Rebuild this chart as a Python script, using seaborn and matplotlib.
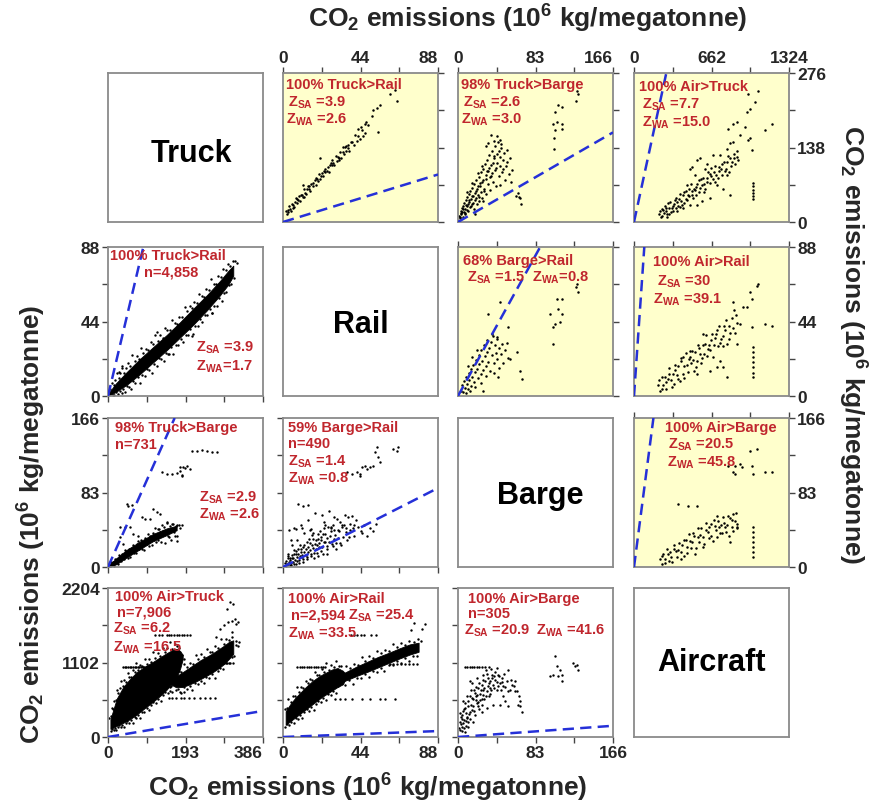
import matplotlib
matplotlib.use("Agg")
import matplotlib.pyplot as plt
import seaborn as sns
import pandas as pd

sns.set_theme(style="white")
plt.rcParams["font.family"] = ["Liberation Sans", "DejaVu Sans"]
plt.rcParams["font.weight"] = "bold"
plt.rcParams["mathtext.fontset"] = "custom"
for key in ("rm", "it", "bf", "sf"):
    plt.rcParams["mathtext." + key] = "Liberation Sans:bold"
plt.rcParams["mathtext.default"] = "rm"

# ---------------------------------------------------------------- data
modes = ["Truck", "Rail", "Barge", "Aircraft"]

# axis maxima: lower-left panels (all shipments) / upper-right panels
lower_max = {"Truck": 386, "Rail": 88, "Barge": 166, "Aircraft": 2204}
upper_max = {"Truck": 276, "Rail": 88, "Barge": 166, "Aircraft": 1324}

# ---- upper-right panels (x = column mode, y = row mode)
up_rail_truck = [(1.6,20.4),(2.2,15.5),(2.9,22.9),(3.3,29.2),(4.1,23.9),(4.6,20.6),(5.2,33.7),(5.5,30.7),
    (6.3,28.4),(6.9,37.5),(7.4,44.2),(7.8,35.5),(8.6,40.2),(9.1,47.9),(9.4,38.0),(10.2,49.7),(10.8,49.7),
    (11.5,47.1),(11.9,60.5),(12.6,52.8),(13.0,51.2),(13.8,60.9),(14.4,67.0),(14.7,61.0),(15.5,57.7),
    (16.1,70.7),(16.8,66.1),(17.2,71.5),(17.9,77.9),(18.5,68.9),(19.3,79.6),(19.6,76.6),(20.4,88.4),
    (21.1,79.7),(21.5,85.1),(22.3,90.8),(22.8,84.5),(23.6,98.2),(24.0,92.6),(24.9,93.7),(25.3,102.0),
    (26.0,93.4),(26.8,105.1),(27.1,109.1),(27.9,104.9),(28.6,110.2),(29.2,105.3),(29.9,121.7),(30.5,112.7),
    (31.2,121.1),(31.8,119.1),(32.6,128.8),(33.0,119.2),(33.9,129.3),(34.5,125.3),(35.2,138.7),(36.0,132.4),
    (36.7,137.8),(37.5,131.5),(38.4,147.6),(39.1,147.9),(40.2,142.7),(41.0,160.4),(41.9,150.5),(42.7,159.2),
    (43.6,153.2),(44.8,170.3),(46.5,182),(47.4,186),(48.1,179),(50.4,197),(51.2,207),(53.3,212),(54.8,216),
    (54.1,167),(46.6,164),(60.8,237),(63.7,244),(64.5,225),(21.0,119),(11.2,69),(33.8,139),(35.5,141),
    (42.5,172),(44.0,176),(45.2,160),(3.0,18),(5.9,26),(8.2,43),(12.2,46),(15.0,66),(18.8,81),(23.0,95),
    (28.0,115),(32.0,115),(37.0,143)]

up_barge_truck = [(1.5,12),(2.3,7),(2.8,21),(3.6,16),(4.1,26),(4.9,10),(5.4,30),(6.2,19),(6.7,35),(7.5,24),
    (8.0,14),(8.8,40),(9.3,29),(10.1,46),(10.6,20),(11.4,37),(12.0,51),(12.7,28),(13.3,57),(14.0,43),
    (14.6,34),(15.5,63),(16.0,49),(16.9,25),(17.5,70),(18.1,41),(18.8,58),(19.6,77),(20.2,33),(21.0,66),
    (21.5,50),(22.3,84),(23.0,39),(23.6,72),(24.5,92),(25.1,56),(25.8,45),(26.6,99),(27.2,78),(28.0,62),
    (28.7,108),(29.5,87),(30.1,52),(30.9,115),(31.6,71),(32.4,95),(33.0,124),(33.8,83),(34.5,60),
    (35.3,106),(36.0,131),(36.8,90),(37.6,75),(38.3,118),(39.1,140),(39.8,97),(40.7,67),(41.4,126),
    (42.2,109),(43.0,149),(43.9,85),(44.6,120),(45.5,103),(46.3,138),(47.2,92),(48.0,115),(49.1,128),
    (50.3,78),(51.6,104),(53.0,134),(54.7,88),(56.2,118),(58.0,96),(2,9),(3.2,14),(4.5,19),(5.8,24),(7,17),
    (8.3,31),(9.6,22),(11,33),(12.3,41),(13.6,30),(15,48),(16.4,36),(17.8,54),(19,44),(20.7,61),(22,47),
    (24,66),(26,74),(27.7,58),(29.8,80),(31.2,95),(33.5,100),(35.5,86),(37,110),(39,122),(41,100),
    (43.5,132),(46,145),(32,146),(35,162),(45,152),(42,160),(30,140),(64,53),(65,47),(66,44),(68,34),
    (62,48),(107.5,216),(111,213),(104,204),(105.7,185),(102,182),(111,182),(104,170),(111,173),(103,155),
    (102.5,136),(127,243),(129,237),(126,225),(9.7,55),(14.8,72),(21.7,90),(25.4,104),(38.9,150),
    (48.6,98),(52.4,112),(57.1,74),(44.8,68),(18.3,14),(27.1,38)]

up_air_truck = [(214,15.2),(229,8.6),(243,24.9),(256,17.0),(270,26.2),(283,14.3),(297,26.5),(310,37.6),
    (323,25.7),(337,19.9),(350,41.0),(364,36.2),(377,30.3),(391,52.6),(404,39.6),(418,49.9),(431,36.0),
    (445,58.2),(458,50.3),(472,47.5),(485,69.6),(499,50.8),(512,61.9),(526,49.2),(539,70.2),(553,77.5),
    (566,63.6),(580,68.8),(593,81.9),(607,61.1),(620,81.2),(634,92.4),(647,72.5),(661,84.8),(674,79.8),
    (688,103.1),(701,87.2),(715,82.4),(728,101.5),(742,98.7),(755,86.8),(769,111.0),(782,99.1),(796,111.4),
    (809,92.4),(823,117.7),(836,110.8),(850,126.0),(863,108.1),(877,121.3),(890,115.4),(478,99),(493,102),
    (535,115),(564,118),(621,108),(678,124),(735,124),(791,136),(820,146),(848,149),(706,69),(763,62),
    (820,50),(649,44),(578,38),(535,32),(421,26),(364,20),(478,32),(300,14),(330,30),(395,28),(250,22),
    (280,10),(360,44),(440,42),(520,60),(600,55),(660,100),(806,173),(848,182),(877,185),(962,204),
    (991,210),(1033,222),(1062,243),(977,237),(991,155),(977,151),(1005,133),(1119,170),(1176,182),
    (905,161),(948,176),(791,87),(606,99),(521,87),(450,69),(1019,72),(1019,66),(1019,60),(1019,54),
    (1019,48),(1019,43),(222,20),(237,12),(262,30),(276,20),(291,36),(315,18),(344,33),(358,26),(384,43),
    (410,31),(426,55),(452,40),(466,62),(492,58),(505,44),(532,65),(559,55),(572,80),(598,70),(625,75),
    (652,88),(681,92),(694,74),(722,94),(748,108),(775,95),(802,122),(829,104),(856,118),(883,131)]

up_barge_rail = [(3.5,3.1),(4.8,6.4),(5.6,2.2),(6.9,8.7),(7.7,4.5),(8.4,11.2),(9.6,6.8),(10.3,3.9),
    (11.5,13.6),(12.1,9.2),(13.4,5.7),(14.2,15.8),(15.0,11.4),(16.3,18.2),(17.1,8.3),(18.0,13.9),(19.2,21.5),
    (19.9,16.1),(21.3,10.6),(22.0,24.3),(22.8,18.7),(24.1,13.2),(24.9,27.1),(25.7,20.6),(26.9,15.4),
    (27.6,30.4),(28.8,23.8),(29.5,17.9),(30.7,26.2),(31.4,33.1),(32.6,20.3),(33.3,28.5),(34.5,14.8),
    (35.2,31.7),(36.4,24.1),(37.3,35.6),(38.1,19.2),(39.4,29.9),(40.2,25.5),(41.5,33.8),(42.3,21.7),
    (43.6,28.1),(44.4,16.4),(45.7,24.9),(47.0,30.8),(48.5,19.6),(50.1,27.3),(52.2,31.2),(54.0,22.4),
    (45.0,55.3),(32.5,48.4),(53.9,40.6),(62.8,25.8),(55.7,21.9),(66.4,15.0),(68.2,10.0),(43.2,11.0),
    (27.1,3.2),(12.9,3.2),(36.1,36.6),(41.4,34.7),(20.5,27.4),(15.5,22.8),(10.8,17.6),(24.5,7.5),
    (30.2,11.9),(38.6,13.5),(18.6,5.4),(8.9,1.8),(98.5,48.4),(102.1,40.6),(103.9,42.5),(105.7,57.3),
    (111.0,57.3),(107.5,51.4),(111.0,48.4),(109.2,43.5),(102.1,30.7),(127.1,66.2),(128.9,61.2),(126.4,64.2)]

up_air_rail = [(205,6.3),(221,3.2),(236,11.0),(249,6.7),(263,11.5),(277,4.2),(288,9.8),(302,16.6),
    (315,9.3),(329,13.1),(341,6.8),(354,18.5),(367,12.2),(380,17.9),(392,8.6),(405,22.3),(419,13.0),
    (431,17.7),(444,25.4),(458,14.2),(470,21.9),(483,19.6),(497,26.3),(509,15.0),(522,25.7),(536,20.5),
    (548,30.1),(561,24.9),(575,19.6),(588,30.3),(600,25.0),(614,35.8),(627,23.5),(639,30.1),(652,26.9),
    (665,36.6),(678,23.3),(691,34.0),(703,36.7),(716,29.4),(730,41.2),(742,33.8),(756,29.6),(769,41.3),
    (781,39.0),(795,30.7),(808,41.4),(820,37.1),(834,45.9),(850,50.8),(862,37.4),(877,43.2),(934,52.4),
    (962,52.4),(905,42.5),(791,11.0),(735,20.9),(592,36.6),(421,22.8),(478,26.8),(535,13.0),(649,15.0),
    (706,16.9),(991,61.2),(1005,57.3),(1048,65.2),(1062,66.2),(1119,42.5),(1176,41.5),(1005,40.6),
    (763,16.9),(877,30.7),(848,55.3),(1019,28.7),(1019,25.8),(1019,22.8),(1019,19.9),(1019,16.9),
    (1019,13.8),(1019,11.0),(215,9.2),(243,3.9),(270,8.3),(295,12.8),(322,5.1),(347,15.2),(373,9.8),
    (398,20.4),(426,10.5),(451,18.6),(476,23.1),(503,21.4),(529,17.3),(556,28.2),(582,22.6),(607,30.8),
    (632,27.9),(658,33.2),(684,30.2),(711,38.9),(737,31.5),(762,35.4),(788,44.8),(815,33.9),(842,40.1),
    (869,47.8)]

up_air_barge = [(218,8.4),(236,3.7),(251,14.8),(268,9.1),(282,20.2),(297,6.3),(311,16.3),(326,5.5),
    (340,20.5),(356,17.7),(369,10.7),(384,26.8),(398,16.9),(413,25.0),(427,12.0),(441,30.1),(456,22.2),
    (470,36.3),(485,21.4),(499,27.4),(514,34.6),(528,21.6),(543,33.7),(557,27.8),(572,42.9),(586,33.0),
    (601,26.1),(615,41.1),(630,39.3),(644,32.3),(659,47.4),(673,29.5),(688,45.6),(702,40.7),(717,50.8),
    (731,37.8),(746,47.0),(760,56.0),(775,44.1),(789,39.2),(804,56.3),(818,54.4),(833,44.5),(847,58.5),
    (862,51.7),(876,43.7),(379,70.2),(464,68.3),(535,68.3),(706,57.2),(820,27.5),(848,40.5),(877,44.2),
    (806,112.9),(863,112.9),(920,111.0),(863,103.6),(848,105.5),(991,129.6),(1048,131.5),(1005,112.9),
    (1019,103.6),(1119,105.5),(1176,105.5),(905,114.8),(1019,44.2),(1019,38.6),(1019,33.1),(1019,27.5),
    (1019,21.9),(1019,16.3),(1019,10.8),(240,12),(262,4),(290,15),(318,11),(345,24),(372,19),(402,9),
    (425,30),(449,16),(477,29),(503,38),(521,15),(548,43),(567,36),(590,22),(612,49),(637,45),(661,35),
    (684,52),(709,33),(723,45),(752,38),(768,49),(797,47),(812,35),(841,52),(869,60),(880,48)]

# ---- lower-left panels (x = column mode, y = row mode)
# saturated cores of the dense clouds: x, lower edge, upper edge
core_truck_rail = ([3, 20, 46, 80, 113, 146, 179, 212, 246, 279, 300, 312],
                   [0.3, 2.5, 6.5, 13, 20, 27, 34.5, 42, 50.5, 59.5, 66, 71],
                   [2.2, 7.5, 14, 22, 29, 36, 43.5, 51.5, 59.5, 68, 74, 77])
low_truck_rail = [(6,4.3),(10,7.8),(14,6.3),(18,9.3),(23,13.4),(27,10.4),(31,13.5),(36,17.8),(40,13.3),
    (45,16.5),(50,19.3),(55,17.6),(60,24.3),(66,20.7),(71,23.7),(77,22.0),(83,28.1),(88,25.5),(94,28.0),
    (100,27.2),(106,32.1),(112,31.0),(118,36.2),(124,32.4),(130,36.0),(136,34.5),(142,40.0),(148,39.0),
    (154,39.1),(160,45.0),(166,43.4),(172,42.6),(178,46.9),(185,46.5),(191,52.8),(197,50.0),(203,53.4),
    (209,51.7),(215,55.5),(221,55.0),(227,60.2),(233,59.0),(239,58.6),(245,63.3),(251,62.7),(257,69.0),
    (263,66.2),(269,66.2),(275,70.7),(281,70.1),(287,75.3),(293,74.4),(299,78.0),(305,76.5),(311,79.9),
    (317,80.0),(12,0.6),(16,0.5),(21,2.2),(25,1.2),(29,3.0),(34,1.9),(38,4.2),(43,2.4),(48,6.2),(53,5.5),
    (58,4.3),(63,8.6),(68,7.7),(74,11.1),(79,7.6),(85,12.2),(91,11.9),(97,15.7),(103,15.3),(109,13.3),
    (115,19.1),(121,17.9),(127,22.4),(133,22.0),(139,20.7),(145,25.3),(151,25.0),(157,28.7),(163,24.8),
    (169,30.2),(175,30.0),(181,33.8),(187,31.9),(193,36.0),(199,36.1),(205,39.7),(211,36.5),(217,41.1),
    (223,41.2),(229,45.2),(235,43.5),(241,47.7),(247,48.0),(253,51.6),(259,49.1),(265,53.4),(271,53.4),
    (277,57.8),(283,56.1),(289,60.6),(295,61.2),(301,65.4),(307,66.0),(313,69.5),(121,37.6),(208,35.6),
    (150,25),(35,16.5),(28,14),(95,19),(260,49),(186,41),(322,78.6)]

core_truck_barge = ([4, 20, 46, 80, 113, 146, 171],
                    [0.2, 3.0, 10.5, 20, 29, 35.5, 41],
                    [3.0, 9.5, 19, 28.5, 37, 43, 46])
low_truck_barge = [(3,1.9),(5.5,0.4),(7.2,5.4),(9.8,2.4),(11.5,5.8),(13.9,0.6),(15.6,5.3),(18.2,9.0),
    (20.1,4.2),(22.7,9.0),(24.4,3.6),(26.8,13.0),(28.9,7.7),(31.2,10.8),(33.5,7.1),(35.1,14.7),(37.8,11.4),
    (39.6,9.3),(41.9,18.4),(44.3,11.7),(46.5,17.5),(48.8,10.3),(51.2,16.8),(53.4,20.6),(55.9,11.2),
    (58.1,20.2),(60.3,16.9),(62.8,25.0),(65.2,16.1),(67.5,20.9),(69.9,15.8),(72.3,25.1),(74.6,29.3),
    (77.1,19.8),(79.5,22.7),(81.8,30.4),(84.2,19.8),(86.7,27.9),(89.1,19.0),(91.6,31.8),(94.0,28.7),
    (96.5,25.4),(98.9,36.3),(101.4,23.4),(103.8,34.2),(106.3,30.7),(108.7,24.2),(111.2,38.3),(113.6,30.2),
    (116.1,43.0),(118.5,27.8),(121.0,36.5),(123.4,30.1),(125.9,42.7),(128.3,38.9),(131.0,27.5),
    (133.8,46.7),(136.5,35.1),(139.3,44.6),(142.0,26.8),(144.8,40.0),(147.9,48.8),(151.2,33.9),
    (154.6,45.4),(158.0,29.9),(161.5,47.5),(165.1,38.5),(168.8,45.7),(172.5,34.3),(176.4,46.9),
    (180.2,43.4),(29.9,44.9),(42.3,44.2),(54.8,44.9),(46.5,70.2),(50.6,68.3),(58.9,69.5),(83.8,55.3),
    (92.1,53.5),(104.6,53.5),(112.9,64.6),(121.2,60.9),(129.5,59.1),(146.1,49.8),(158.5,47.9),(171.0,47.2),
    (183.4,47.2),(63.1,36.8),(75.5,34.9),(29.9,33.1),(38.2,25.6),(137.8,40.5),(150.2,34.9),(166.8,34.9),
    (171.0,29.3),(125.3,42.3),(133.6,105.5),(146.1,103.6),(158.5,103.6),(171.0,104.4),(179.3,107.3),
    (183.4,102.9),(187.6,111.0),(195.9,112.9),(204.2,109.2),(208.3,129.6),(220.8,128.9),(233.2,130.4),
    (245.7,129.6),(258.1,127.8),(270.6,128.5),(179.3,111.8),(191.7,110.3),(183.4,101.8)]

low_rail_barge = [(1.2,4.9),(1.9,0.7),(2.7,9.9),(3.3,5.3),(4.0,10.4),(4.8,2.5),(5.3,9.5),(6.1,14.8),
    (6.8,7.6),(7.4,14.2),(8.2,6.5),(8.7,20.3),(9.5,12.2),(10.2,16.8),(10.9,10.7),(11.6,22.8),(12.2,17.1),
    (13.0,13.7),(13.6,28.1),(14.4,17.1),(15.1,26.3),(15.7,14.3),(16.5,25.0),(17.2,30.9),(17.8,15.4),
    (18.6,29.9),(19.3,24.4),(19.9,37.3),(20.7,22.7),(21.4,30.4),(22.0,21.8),(22.8,37.0),(23.5,43.6),
    (24.1,27.7),(24.9,32.5),(25.6,45.1),(26.2,27.5),(27.0,40.5),(27.7,25.7),(28.3,46.4),(29.1,41.2),
    (29.8,35.7),(30.6,53.6),(31.5,32.5),(32.4,50.2),(33.3,44.5),(34.2,33.7),(35.1,57.4),(36.0,43.8),
    (37.0,55.8),(38.1,41.1),(39.3,56.7),(40.4,46.4),(41.6,52.0),(2.2,3.4),(3.8,1.9),(5.6,5.1),(7.1,3.8),
    (9.1,8.3),(11.2,6.1),(13.8,9.4),(16.1,12.7),(19.1,15.8),(21.8,17.3),(25.1,20.4),(28.6,22.9),(32.1,26.8),
    (36.4,30.2),(40.2,34.6),(45.1,38.3),(49.5,43.9),(47.5,35),(53,48),(51,40),(33,25),(30,20),(25,15),
    (20,12),(5,25),(8,30),(12,38),(16,42),(6,44),(10,47),(14,52),(18,60),(22,58),(26,62),(8.7,70),
    (11.5,68),(14.2,69.5),(3.1,14.6),(6.4,19.2),(9.8,24.7),(4.5,30.1),(17,38),(23,50),(29,56),
    (1.5,6.8),(2.4,2.3),(3.0,11.7),(3.7,7.9),(4.3,4.1),(5.0,13.2),(5.8,9.8),(6.5,3.0),(7.2,17.6),(7.9,10.9),
    (8.5,15.0),(9.3,4.8),(10.0,19.8),(10.6,13.8),(11.4,9.0),(12.1,24.1),(12.8,19.6),(13.4,11.5),(14.1,22.0),
    (14.9,31.4),(15.5,18.6),(16.3,35.2),(16.9,21.3),(17.6,9.7),(18.3,26.1),(19.0,19.9),(19.7,31.6),
    (20.4,26.8),(21.2,40.1),(21.8,33.3),(22.5,14.6),(23.3,28.4),(24.0,36.9),(24.8,23.5),(26.4,34.6),
    (27.4,45.0),(28.9,31.2),(30.3,27.1),(31.8,40.3),(34.5,46.6),(35.8,38.5),(37.7,33.0),(39.6,43.0),
    (42.8,44.1),(44.3,39.6),(46.2,46.8),(3.5,41),(7.5,42.5),(11,44),(15.5,41.5),(24,47),(27,44),(31,41),
    (33.5,46.5),(38,48),(36.1,105.5),(39.0,103.6),(41.8,105.5),(43.7,103.6),(44.7,111.0),(46.5,112.9),
    (47.5,109.2),(49.4,111.8),(51.3,112.9),(52.2,127.8),(53.2,133.3),(54.1,122.2),(55.1,116.6),
    (62.6,131.5),(64.5,129.6),(65.5,133.3),(43.7,101.8)]

core_truck_air_a = ([6, 12, 22, 38, 55, 71, 90, 113, 130, 146, 160, 172, 180, 186],
                    [120, 135, 165, 210, 265, 330, 420, 526, 610, 700, 800, 900, 1020, 1150],
                    [260, 380, 570, 740, 860, 955, 1035, 1115, 1180, 1240, 1285, 1305, 1270, 1215])
core_truck_air_b = ([152, 162, 170, 185, 200, 215, 230, 245, 260, 275, 290, 302, 312],
                    [790, 760, 735, 740, 770, 810, 855, 905, 955, 1015, 1085, 1160, 1230],
                    [830, 870, 900, 955, 1015, 1075, 1135, 1185, 1235, 1295, 1355, 1410, 1430])
low_truck_air = [(3,280),(7,305),(9,430),(13,415),(16,530),(19,545),(23,700),(26,645),(30,720),(33,825),
    (37,760),(41,845),(45,810),(49,945),(53,890),(58,890),(62,995),(66,960),(70,1100),(75,995),(80,1065),
    (85,1050),(91,1160),(96,1080),(102,1155),(107,1110),(112,1250),(118,1175),(124,1245),(130,1205),
    (136,1310),(142,1255),(148,1315),(154,1405),(160,1305),(166,1375),(172,1340),(178,1320),(8,95),
    (11,122),(15,99),(18,138),(21,102),(25,153),(28,174),(32,143),(35,181),(40,141),(44,204),(48,232),
    (53,203),(57,253),(62,213),(66,294),(70,281),(75,324),(80,278),(85,376),(90,370),(96,433),(102,405),
    (108,473),(113,516),(119,496),(125,565),(131,526),(137,614),(143,668),(149,649),(155,739),(176,980),
    (183,968),(190,1075),(197,1033),(204,1101),(211,1074),(218,1207),(225,1150),(232,1222),(239,1185),
    (246,1298),(253,1252),(260,1250),(267,1353),(274,1321),(281,1449),(288,1372),(295,1448),(302,1430),
    (309,1485),(318,1420),(324,1350),(175,703),(182,658),(189,733),(196,707),(203,753),(210,697),(217,796),
    (224,777),(231,828),(238,792),(245,890),(252,878),(259,927),(266,869),(273,972),(280,1023),(287,1001),
    (294,1088),(301,1094),(308,1177),(314,1195),(296,1891),(304,1990),(312,1966),(300,1700),(308,1720),
    (316,1740),(320,1668),(324,1700),(290,1650),(280,1600),(270,1480),(325,1400),(318,1360),(310,1560),
    (38,1040),(42,1040),(46,1040),(50,1040),(54,1040),(58,1040),(62,1040),(66,1040),(70,1040),(74,1040),
    (78,1040),(82,1040),(86,1040),(90,1040),(94,1040),(98,1040),(102,1040),(117,1504),(126,1504),
    (135,1504),(146,1504),(152,1504),(158,1504),(164,1504),(171,1504),(177,1504),(184,1504),(190,1504),
    (197,1504),(204,1504),(246,1092),(254,1092),(263,1092),(271,1092),(279,1092),(288,1092),(296,1092),
    (304,1092),(312,1092),(151,570),(160,570),(170,570),(181,570),(190,570),(201,570),(214,570),(228,570),
    (241,570),(253,570),(266,570),(155,680),(160,665),(170,690),(180,670),(190,660),(184,1210),(189,1160),
    (165,820),(158,760)]

core_rail_air_a = ([1.5, 4, 7, 10, 13, 16, 19, 22, 25, 28, 31, 34, 35.5],
                   [180, 230, 290, 350, 410, 470, 530, 590, 640, 690, 740, 780, 860],
                   [380, 480, 580, 660, 740, 810, 870, 920, 960, 1000, 1020, 980, 930])
core_rail_air_b = ([27, 30, 36, 42, 48, 54, 60, 66, 72, 77],
                   [800, 780, 840, 905, 965, 1030, 1095, 1160, 1220, 1260],
                   [840, 890, 965, 1045, 1115, 1185, 1245, 1310, 1370, 1395])
low_rail_air = [(1.0,420),(2.2,435),(3.1,555),(4.5,517),(5.6,613),(6.8,603),(8.0,737),(9.1,661),
    (10.4,741),(11.6,718),(12.8,835),(14.1,801),(15.3,854),(16.6,842),(17.9,968),(19.2,913),(20.6,912),
    (21.9,1008),(23.2,966),(24.6,1095),(25.9,992),(27.3,1066),(28.7,1030),(30.1,1124),(31.6,1047),
    (33.0,1053),(1.3,145),(2.5,190),(3.6,172),(4.8,226),(6.0,200),(7.2,279),(8.4,273),(9.6,322),(10.9,283),
    (12.1,367),(13.4,408),(14.7,384),(16.0,450),(17.4,403),(18.7,494),(20.1,537),(21.5,515),(22.9,580),
    (24.3,548),(25.7,632),(27.1,625),(28.6,685),(30.0,653),(31.5,958),(33.8,952),(35.9,1054),(38.1,1018),
    (40.2,1081),(42.4,1070),(44.6,1186),(46.8,1131),(49.0,1197),(51.3,1165),(53.5,1274),(55.8,1238),
    (58.0,1285),(60.3,1268),(62.6,1372),(64.9,1328),(67.2,1397),(69.5,1365),(71.8,1423),(74.2,1405),
    (76.5,1453),(78.5,1420),(31.0,750),(33.2,797),(35.4,764),(37.6,837),(39.8,786),(42.0,880),(44.2,872),
    (46.4,934),(48.6,891),(50.9,971),(53.1,960),(55.4,1025),(57.6,969),(59.9,1064),(62.2,1069),(64.5,1129),
    (66.8,1098),(69.1,1166),(71.4,1129),(73.7,1202),(76.0,1197),(8.2,1037),(9.5,1037),(10.8,1037),
    (12.1,1037),(13.4,1037),(14.7,1037),(16.0,1037),(17.4,1037),(18.7,1037),(20.0,1037),(21.3,1037),
    (22.6,1037),(23.9,1037),(38.4,1504),(40.5,1504),(42.2,1504),(44.3,1504),(46.1,1504),(49.8,1504),
    (53.0,1504),(60.5,1087),(62.5,1087),(64.6,1087),(67.0,1087),(69.3,1087),(71.6,1087),(74.0,1087),
    (76.0,1087),(29.5,566),(32.4,566),(35.1,566),(39.2,566),(45.0,566),(49.3,566),(55.2,566),(58.0,566),
    (63.5,566),(74.5,1680),(80.8,1670),(72.7,1590),(79,1600)]

low_barge_air = [(1.4,129),(2.1,228),(3.9,328),(5.7,204),(7.5,427),(9.3,278),(11.1,526),(12.9,377),
    (14.6,576),(16.4,452),(18.2,650),(20.0,501),(21.8,725),(23.6,551),(25.3,774),(27.1,625),(28.9,824),
    (30.7,675),(32.5,874),(34.3,725),(36.1,923),(37.8,774),(39.6,849),(41.4,700),(43.2,923),(45.0,799),
    (46.8,874),(48.6,750),(52.1,824),(53.9,675),(55.7,700),(57.5,774),(61.0,824),(62.8,675),(66.4,526),
    (68.2,377),(66.4,452),(5.7,526),(12.9,601),(20.0,625),(27.1,700),(34.3,824),(14.6,799),(12.9,824),
    (7.5,79),(3.9,154),(11.1,154),(18.2,328),(25.3,377),(30.7,427),(37.8,477),(45.0,477),(50.3,526),
    (21.8,452),(16.4,228),(9.3,303),(27.1,923),(41.4,1023),(53.9,998),(61.0,675),(48.6,601),(53.9,452),
    (4.6,260),(8.2,350),(10.5,215),(15.3,395),(19.1,540),(22.6,410),(24.4,690),(28.2,560),(31.6,760),
    (33.1,610),(35.7,690),(38.9,905),(42.3,820),(17.3,700),(26.2,480),(2.8,300),(6.4,420),(8.6,170),
    (3.2,190),(4.9,380),(6.1,250),(7.9,510),(8.8,230),(10.2,460),(11.8,340),(13.5,690),(14.1,470),
    (15.9,560),(17.1,390),(18.8,740),(19.6,600),(21.2,520),(22.9,800),(23.5,640),(25.9,560),(26.6,850),
    (28.3,720),(29.7,600),(31.2,930),(32.8,800),(34.8,640),(36.9,870),(38.2,720),(40.1,960),(42.9,760),
    (44.3,900),(46.1,690),(47.5,820),(50.8,740),(2.5,110),(4.2,90),(6.9,140),(1.8,350),(9.9,600),
    (13.0,260),(20.8,880),(30.1,990),(35.2,1010),(49.7,930),(56.5,850),(59.8,760),(65.3,600),(64.2,480),
    (98.5,898),(102.1,923),(103.9,1196),(105.7,1047),(109.2,998),(111.0,923),(111.0,824),(107.5,898),
    (123.5,1097),(127.1,1072),(128.9,998),(125.3,1047),(7.5,1032),(10.0,1032),(12.5,1032),(15.0,1032),
    (17.5,1032),(20.0,1032),(22.5,1032),(25.5,1032),(29.0,1032),(33.0,1032)]

upper_sets = {(0, 1): up_rail_truck, (0, 2): up_barge_truck, (0, 3): up_air_truck,
              (1, 2): up_barge_rail, (1, 3): up_air_rail, (2, 3): up_air_barge}
lower_sets = {(1, 0): low_truck_rail, (2, 0): low_truck_barge, (2, 1): low_rail_barge,
              (3, 0): low_truck_air, (3, 1): low_rail_air, (3, 2): low_barge_air}
lower_cores = {(1, 0): [core_truck_rail], (2, 0): [core_truck_barge],
               (3, 0): [core_truck_air_a, core_truck_air_b],
               (3, 1): [core_rail_air_a, core_rail_air_b]}

# panel annotations: text lines
notes = {
    (0, 1): ["100% Truck>Rail", "Z$_{SA}$ =3.9", "Z$_{WA}$ =2.6"],
    (0, 2): ["98% Truck>Barge", "Z$_{SA}$ =2.6", "Z$_{WA}$ =3.0"],
    (0, 3): ["100% Air>Truck", "Z$_{SA}$ =7.7", "Z$_{WA}$ =15.0"],
    (1, 2): ["68% Barge>Rail", "Z$_{SA}$ =1.5", "Z$_{WA}$=0.8"],
    (1, 3): ["100% Air>Rail", "Z$_{SA}$ =30", "Z$_{WA}$ =39.1"],
    (2, 3): ["100% Air>Barge", "Z$_{SA}$ =20.5", "Z$_{WA}$ =45.8"],
    (1, 0): ["100% Truck>Rail", "n=4,858", "Z$_{SA}$ =3.9", "Z$_{WA}$=1.7"],
    (2, 0): ["98% Truck>Barge", "n=731", "Z$_{SA}$ =2.9", "Z$_{WA}$ =2.6"],
    (2, 1): ["59% Barge>Rail", "n=490", "Z$_{SA}$ =1.4", "Z$_{WA}$ =0.8"],
    (3, 0): ["100% Air>Truck", "n=7,906", "Z$_{SA}$ =6.2", "Z$_{WA}$ =16.5"],
    (3, 1): ["100% Air>Rail", "n=2,594", "Z$_{SA}$ =25.4", "Z$_{WA}$ =33.5"],
    (3, 2): ["100% Air>Barge", "n=305", "Z$_{SA}$ =20.9", "Z$_{WA}$ =41.6"],
}
axis_title = "CO$_2$ emissions (10$^6$ kg/megatonne)"

# ---------------------------------------------------------------- layout
W, H = 869, 804
col_left = [108, 283, 458, 634]
row_top = [74, 248, 419, 589]
PW, PH = 155, 149

# (x, y) in axes fraction for each annotation line
note_xy = {
    (0, 1): [(0.02, 0.925), (0.03, 0.81), (0.02, 0.695)],
    (0, 2): [(0.02, 0.925), (0.03, 0.81), (0.02, 0.695)],
    (0, 3): [(0.03, 0.91), (0.05, 0.79), (0.05, 0.675)],
    (1, 2): [(0.03, 0.915), (0.06, 0.80), (0.48, 0.80)],
    (1, 3): [(0.12, 0.905), (0.15, 0.77), (0.12, 0.65)],
    (2, 3): [(0.20, 0.94), (0.22, 0.83), (0.21, 0.705)],
    (1, 0): [(0.015, 0.945), (0.23, 0.835), (0.57, 0.33), (0.57, 0.205)],
    (2, 0): [(0.045, 0.94), (0.045, 0.825), (0.59, 0.47), (0.59, 0.355)],
    (2, 1): [(0.03, 0.94), (0.03, 0.835), (0.03, 0.715), (0.03, 0.60)],
    (3, 0): [(0.045, 0.945), (0.06, 0.84), (0.035, 0.73), (0.035, 0.605)],
    (3, 1): [(0.03, 0.935), (0.05, 0.82), (0.42, 0.82), (0.03, 0.70)],
    (3, 2): [(0.065, 0.935), (0.065, 0.83), (0.04, 0.72), (0.50, 0.72)],
}
name_xy = {0: (0.54, 0.46), 1: (0.50, 0.48), 2: (0.53, 0.48), 3: (0.50, 0.50)}

RED = "#C0262D"
BLUE = "#2530D8"
YELLOW = "#FFFFCC"
FRAME = "#8A8A8A"

fig = plt.figure(figsize=(W / 100, H / 100), dpi=100)


def quarter_ticks(vmax):
    return [0, vmax / 2, vmax], [vmax / 4, 3 * vmax / 4]


for i, ym in enumerate(modes):
    for j, xm in enumerate(modes):
        ax = fig.add_axes([col_left[j] / W, 1 - (row_top[i] + PH) / H, PW / W, PH / H])
        for sp in ax.spines.values():
            sp.set_color(FRAME)
            sp.set_linewidth(1.3)
        if i == j:
            ax.set_facecolor("white")
            ax.set_xticks([])
            ax.set_yticks([])
            nx, ny = name_xy[i]
            ax.text(nx, ny, xm, transform=ax.transAxes, ha="center", va="center",
                    fontsize=22, fontweight="bold", color="black")
            continue

        upper = i < j
        scale = upper_max if upper else lower_max
        xmax, ymax = scale[xm], scale[ym]
        pts = upper_sets[(i, j)] if upper else lower_sets[(i, j)]
        df = pd.DataFrame(pts, columns=["x", "y"])

        ax.set_facecolor(YELLOW if upper else "white")
        for core in lower_cores.get((i, j), []):
            ax.fill_between(core[0], core[1], core[2], color="black", lw=0.6,
                            edgecolor="black", zorder=1)
        sns.scatterplot(data=df, x="x", y="y", ax=ax, s=3.2 if upper else 3.0, color="black",
                        linewidth=0, legend=False, zorder=2)
        ax.axline((0, 0), slope=1, color=BLUE, lw=1.8, ls=(0, (4.5, 2.5)), zorder=3)
        ax.set_xlim(0, xmax)
        ax.set_ylim(0, ymax)
        ax.set_xlabel("")
        ax.set_ylabel("")

        xmaj, xmin = quarter_ticks(xmax)
        ymaj, ymin = quarter_ticks(ymax)
        ax.set_xticks(xmaj)
        ax.set_xticks(xmin, minor=True)
        ax.set_yticks(ymaj)
        ax.set_yticks(ymin, minor=True)
        ax.set_xticklabels([f"{v:g}" for v in xmaj])
        ax.set_yticklabels([f"{v:g}" for v in ymaj])
        ax.tick_params(which="both", direction="out", length=4, width=1, color="#444444",
                       labelsize=12.5, pad=2)
        if upper:
            ax.xaxis.set_ticks_position("top")
            ax.yaxis.set_ticks_position("right")
            ax.tick_params(labeltop=(i == 0), labelbottom=False,
                           labelright=(j == 3), labelleft=False)
            if i == 0 and j < 3:
                ax.get_xticklabels()[-1].set_ha("right")
        else:
            ax.xaxis.set_ticks_position("bottom")
            ax.yaxis.set_ticks_position("left")
            ax.tick_params(labelbottom=(i == 3), labeltop=False,
                           labelleft=(j == 0), labelright=False)
            if i == 3 and j < 2:
                ax.get_xticklabels()[-1].set_ha("right")
        for lab in ax.get_xticklabels() + ax.get_yticklabels():
            lab.set_fontweight("bold")

        for txt, (tx, ty) in zip(notes[(i, j)], note_xy[(i, j)]):
            ax.text(tx, ty, txt, transform=ax.transAxes, ha="left", va="center",
                    fontsize=10.5, fontweight="bold", color=RED, zorder=4)

fig.text(528 / W, 1 - 19 / H, axis_title, ha="center", va="center", fontsize=19, fontweight="bold")
fig.text(368 / W, 1 - 788 / H, axis_title, ha="center", va="center", fontsize=19, fontweight="bold")
fig.text(32 / W, 1 - 524 / H, axis_title, ha="center", va="center", rotation=90,
         fontsize=19, fontweight="bold")
fig.text(852 / W, 1 - 345 / H, axis_title, ha="center", va="center", rotation=-90,
         fontsize=19, fontweight="bold")

fig.savefig("out.png", dpi=100)
